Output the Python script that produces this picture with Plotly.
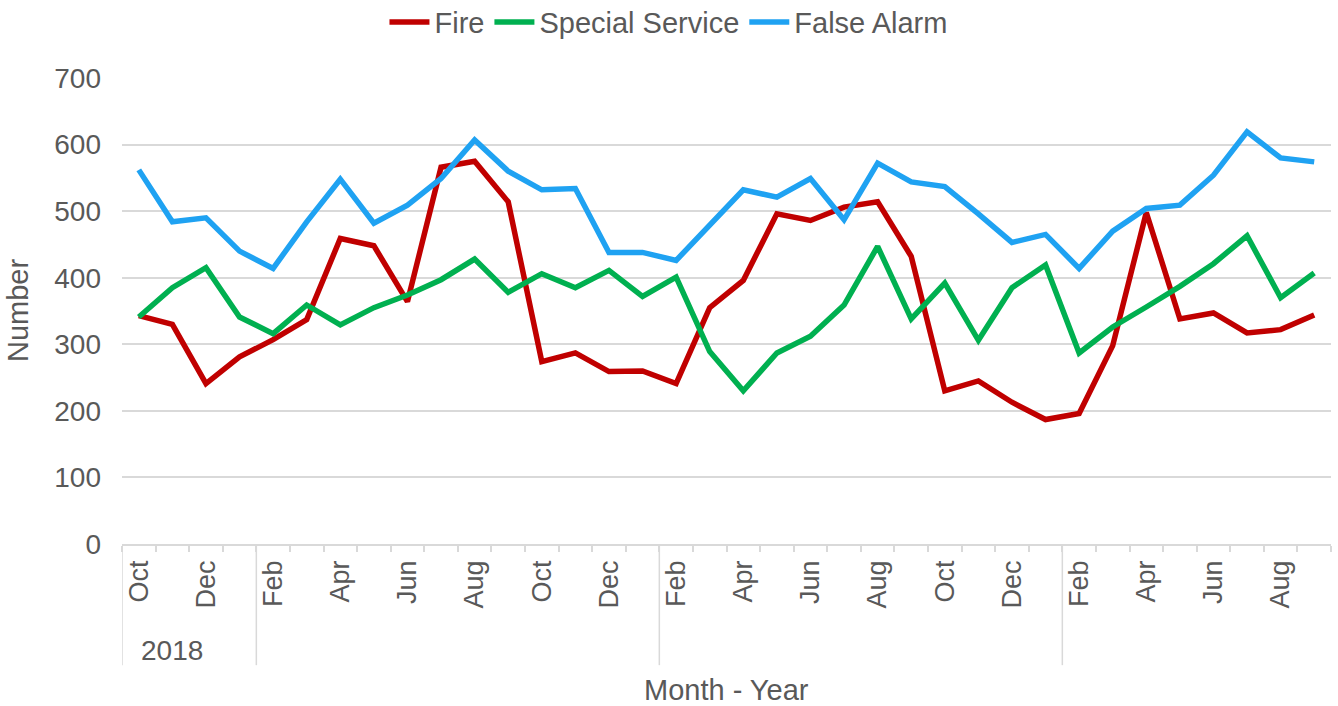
import plotly.graph_objects as go

# ---- data ----
months = ["Oct", "Nov", "Dec", "Jan", "Feb", "Mar", "Apr", "May", "Jun", "Jul", "Aug", "Sep",
          "Oct", "Nov", "Dec", "Jan", "Feb", "Mar", "Apr", "May", "Jun", "Jul", "Aug", "Sep",
          "Oct", "Nov", "Dec", "Jan", "Feb", "Mar", "Apr", "May", "Jun", "Jul", "Aug", "Sep"]
years = [2018, 2018, 2018] + [2019] * 12 + [2020] * 12 + [2021] * 9

fire = [343, 330, 241, 281, 307, 337, 459, 448, 364, 566, 575, 514,
        274, 287, 259, 260, 241, 355, 396, 496, 486, 506, 514, 432,
        230, 245, 213, 187, 196, 298, 498, 338, 347, 317, 322, 344]
special_service = [341, 385, 415, 341, 316, 359, 329, 355, 374, 397, 428, 378,
                   406, 385, 411, 372, 401, 289, 230, 287, 312, 359, 447, 338,
                   392, 306, 385, 419, 287, 326, 356, 387, 421, 463, 370, 407]
false_alarm = [562, 484, 490, 440, 414, 484, 548, 482, 509, 549, 607, 560,
               532, 534, 438, 438, 426, 479, 532, 521, 549, 487, 572, 544,
               537, 496, 453, 465, 414, 470, 504, 509, 554, 619, 580, 574]

group_labels = ["2018", "", "", ""]
group_starts = [0, 4, 16, 28]  # category index where each axis group begins

y_ticks = [0, 100, 200, 300, 400, 500, 600, 700]

categories = [f"{m} {y}" for m, y in zip(months, years)]
tick_text = [m if i % 2 == 0 else "" for i, m in enumerate(months)]

GREY = "#595959"
LINE = "#D9D9D9"
FONT = "Liberation Sans, Arial, sans-serif"

fig = go.Figure()
for name, vals, col in [("Fire", fire, "#C00000"),
                        ("Special Service", special_service, "#00B050"),
                        ("False Alarm", false_alarm, "#1FA2F2")]:
    fig.add_trace(go.Scatter(x=categories, y=vals, mode="lines", name=name,
                             line=dict(color=col, width=5.5)))

shapes = []
for s in group_starts:
    shapes.append(dict(type="line", xref="x", yref="paper", x0=s - 0.5, x1=s - 0.5,
                       y0=0, y1=-0.26, line=dict(color=LINE, width=1.5)))

annotations = []
for s, lab in zip(group_starts, group_labels):
    if lab:
        annotations.append(dict(text=lab, xref="x", yref="paper", x=s + 1, y=-0.228,
                                showarrow=False, font=dict(size=28, color=GREY, family=FONT),
                                xanchor="center", yanchor="middle"))
annotations.append(dict(text="Month - Year", xref="paper", yref="paper", x=0.5, y=-0.314,
                        showarrow=False, font=dict(size=29, color=GREY, family=FONT),
                        xanchor="center", yanchor="middle"))
annotations.append(dict(text="Number", xref="paper", yref="paper", x=-0.086, y=0.5,
                        textangle=-90, showarrow=False,
                        font=dict(size=29, color=GREY, family=FONT),
                        xanchor="center", yanchor="middle"))

fig.update_layout(
    width=1338, height=706,
    margin=dict(l=122, r=7, t=78, b=162, autoexpand=False),
    paper_bgcolor="white", plot_bgcolor="white",
    font=dict(family=FONT, color=GREY, size=28),
    legend=dict(orientation="h", x=0.452, xanchor="center", y=1.12, yanchor="middle",
                font=dict(size=29, color=GREY, family=FONT), itemwidth=40,
                tracegroupgap=0),
    xaxis=dict(type="category", categoryorder="array", categoryarray=categories,
               range=[-0.5, len(categories) - 0.5], automargin=False,
               tickvals=categories, ticktext=tick_text, tickangle=-90,
               tickson="boundaries", ticks="outside", ticklen=6, tickcolor=LINE,
               tickwidth=1.5, showline=True, linecolor=LINE, linewidth=1.5,
               ticklabelstandoff=4,
               showgrid=False, tickfont=dict(size=27, color=GREY, family=FONT)),
    yaxis=dict(range=[0, 700], tickvals=y_ticks, showgrid=True, gridcolor=LINE,
               gridwidth=1.5, zeroline=False, showline=False, ticks="", automargin=False,
               ticklabelstandoff=20, tickfont=dict(size=28, color=GREY, family=FONT)),
    shapes=shapes, annotations=annotations,
)

fig.write_html("out.html", config={"displayModeBar": False},
               post_script="document.body.style.margin='0';document.body.style.overflow='hidden';")
